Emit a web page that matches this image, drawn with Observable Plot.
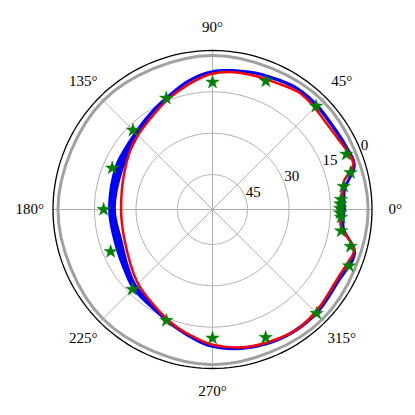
<!DOCTYPE html>
<html><head><meta charset="utf-8">
<script src="https://cdn.jsdelivr.net/npm/d3@7"></script>
<script src="https://cdn.jsdelivr.net/npm/@observablehq/plot@0.6"></script>
<style>body{margin:0;background:#fff} #chart svg{display:block}</style>
</head><body><div id="chart"></div>
<script>
// ---- data ----
const thetaTicks = [0, 45, 90, 135, 180, 225, 270, 315];
const thetaLabels = ["0°", "45°", "90°", "135°", "180°", "225°", "270°", "315°"];
const rGrid = [15, 30, 45];
const rTickValues = [0, 15, 30, 45];
const rTickLabels = ["0", "15", "30", "45"];
const rCenter = 57.64; // radial value at the centre (axis inverted)

const redAngles = [0, 5, 12, 18, 23.5, 30, 39, 47.5, 54, 63, 74, 83, 91, 101, 112, 124, 139, 156, 180, 199, 224, 239, 252, 263.5, 270, 283, 296.5, 306, 318, 331, 338, 344, 353];
const redValues = [10.6, 10.6, 9.1, 4.1, 4.6, 5.6, 5.9, 5.2, 5.0, 6.2, 6.9, 7.4, 8.6, 11.5, 14.6, 17.7, 20.1, 22.9, 24.6, 24.0, 19.8, 16.9, 13.3, 10.4, 8.6, 6.4, 5.2, 4.5, 5.3, 6.0, 5.2, 4.4, 11.0];

const blueAngles = [0, 8, 17, 25, 35, 45, 55, 65, 75, 90, 100, 110, 123, 140, 157, 180, 200, 215, 225, 240, 255, 270, 285, 300, 315, 330, 343, 352, 360];
const blueHigh = [10.6, 10.2, 4.5, 4.8, 5.3, 5.0, 4.8, 5.9, 6.8, 8.5, 11.0, 14.3, 17.3, 21.1, 22.6, 22.9, 23.3, 21.1, 19.0, 16.8, 13.0, 8.5, 6.3, 5.0, 4.9, 5.8, 4.4, 10.7, 10.6];
const blueLow  = [9.2, 8.8, 3.3, 3.6, 4.1, 3.7, 3.6, 4.7, 5.7, 7.3, 9.8, 13.0, 16.0, 18.6, 19.3, 20.1, 20.1, 18.6, 16.8, 15.2, 11.7, 7.3, 5.1, 3.8, 3.7, 4.5, 3.2, 9.2, 9.2];

const starAngles = [90, 67.5, 45, 22.5, 15, 10, 4.5, 2.5, 0.5, -1.5, -3.5, -9.5, -15, -22.5, -45, -67.5, -90, 247.5, 225, 202.5, 180, 157.5, 135, 112.5];
const starValues = [11.5, 7.2, 4.7, 5.3, 6.0, 9.5, 11.1, 11.4, 11.5, 11.5, 11.1, 10.5, 6.0, 4.2, 4.4, 7.4, 11.0, 14.1, 16.7, 17.8, 18.3, 18.4, 17.0, 14.0];

const grayAngles = [0, 45, 90, 135, 180, 225, 270, 315];
const grayValues = [1.4, 1.6, 1.8, 1.8, 1.8, 1.6, 1.4, 1.4];

// ---- polar helpers ----
const rad = v => 1 - v / rCenter;
const toX = (a, v) => rad(v) * Math.cos(a * Math.PI / 180);
const toY = (a, v) => rad(v) * Math.sin(a * Math.PI / 180);

const red = redAngles.map((a, i) => ({a, v: redValues[i]}));
const blue = blueAngles.map((a, i) => ({a, hi: blueHigh[i], lo: blueLow[i]}));
const stars = starAngles.map((a, i) => ({a, v: starValues[i]}));
const gray = grayAngles.map((a, i) => ({a, v: grayValues[i]}));

const ring = d3.range(0, 361, 2);
const gridRings = rGrid.flatMap(v => ring.map(a => ({a, v})));
const outer = ring.map(a => ({a, v: 0}));

const font = "'Liberation Serif', 'Times New Roman', serif";

const chart = Plot.plot({
  width: 415, height: 415,
  marginLeft: 52.5, marginRight: 43.5, marginTop: 50, marginBottom: 47,
  x: {domain: [-1, 1], axis: null},
  y: {domain: [-1, 1], axis: null},
  style: {fontFamily: font, fontSize: "15px", background: "#fff"},
  marks: [
    Plot.line(gridRings, {x: d => toX(d.a, d.v), y: d => toY(d.a, d.v), z: "v", stroke: "#b0b0b0", strokeWidth: 1}),
    Plot.link(thetaTicks, {x1: () => 0, y1: () => 0, x2: a => toX(a, 0), y2: a => toY(a, 0), stroke: "#b0b0b0", strokeWidth: 1}),
    Plot.line(gray, {x: d => toX(d.a, d.v), y: d => toY(d.a, d.v), curve: "catmull-rom-closed", stroke: "#a0a0a0", strokeWidth: 3}),
    Plot.line(outer, {x: d => toX(d.a, d.v), y: d => toY(d.a, d.v), stroke: "#000", strokeWidth: 1.3}),
    Plot.area(blue, {x1: d => toX(d.a, d.hi), y1: d => toY(d.a, d.hi), x2: d => toX(d.a, d.lo), y2: d => toY(d.a, d.lo), fill: "#0000ff", curve: "catmull-rom"}),
    Plot.line(red, {x: d => toX(d.a, d.v), y: d => toY(d.a, d.v), curve: "catmull-rom-closed", stroke: "#ff0000", strokeWidth: 2.5}),
    Plot.dot(stars, {x: d => toX(d.a, d.v), y: d => toY(d.a, d.v), symbol: "star", r: 4.2, fill: "#008000", stroke: "#008000", strokeWidth: 0.5}),
    Plot.text(thetaTicks, {x: a => 1.145 * Math.cos(a * Math.PI / 180), y: a => 1.145 * Math.sin(a * Math.PI / 180), text: (a, i) => thetaLabels[i], fontSize: 15, fill: "#000"}),
    Plot.text(rTickValues, {x: v => toX(22.5, v), y: v => toY(22.5, v), text: (v, i) => rTickLabels[i], textAnchor: "start", lineAnchor: "bottom", dx: 1, dy: 1, fontSize: 15, fill: "#000"})
  ]
});
document.getElementById("chart").append(chart);
</script>
</body></html>
